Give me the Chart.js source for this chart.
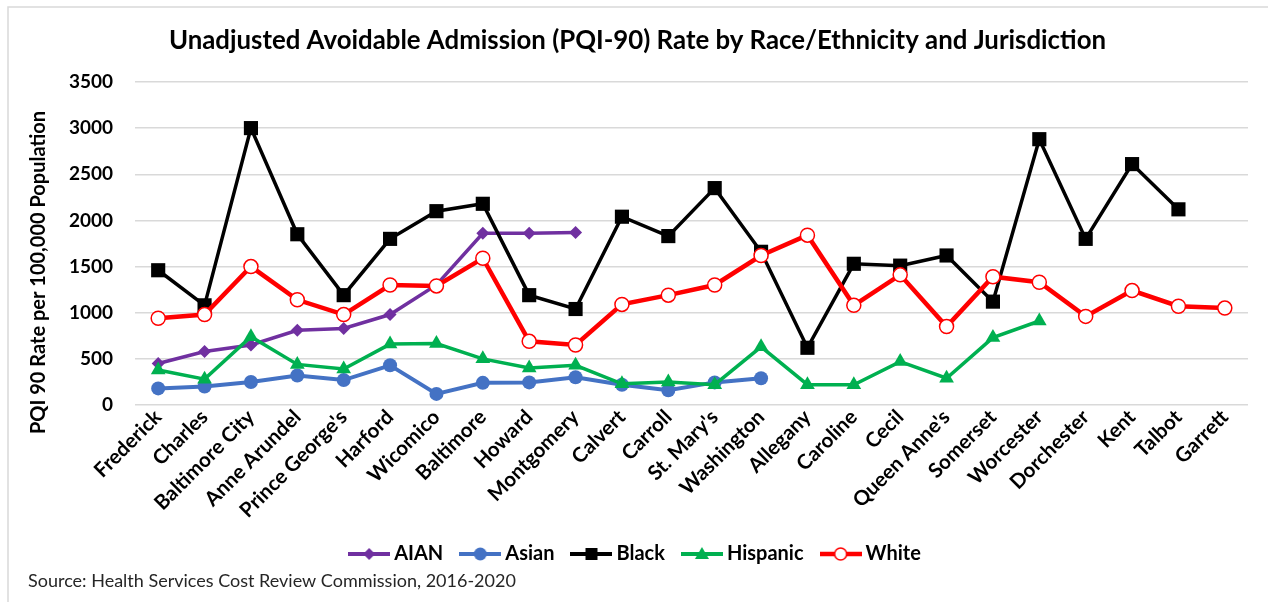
<!DOCTYPE html>
<html>
<head>
<meta charset="utf-8">
<script src="https://cdn.jsdelivr.net/npm/chart.js@4/dist/chart.umd.min.js"></script>
<style>
  html, body { margin: 0; padding: 0; background: #fff; }
  #wrap { width: 1268px; height: 602px; position: relative; }
</style>
</head>
<body>
<div id="wrap"><canvas id="c" width="1268" height="602"></canvas></div>
<script>
// Jurisdictions along the x axis
const jurisdictions = ["Frederick", "Charles", "Baltimore City", "Anne Arundel", "Prince George's",
  "Harford", "Wicomico", "Baltimore", "Howard", "Montgomery", "Calvert", "Carroll", "St. Mary's",
  "Washington", "Allegany", "Caroline", "Cecil", "Queen Anne's", "Somerset", "Worcester",
  "Dorchester", "Kent", "Talbot", "Garrett"];

// PQI-90 rate per 100,000 population, by race/ethnicity (null = not reported)
const aian = [450, 580, 650, 810, 830, 980, 1300, 1860, 1860, 1870,
  null, null, null, null, null, null, null, null, null, null, null, null, null, null];
const asian = [180, 200, 250, 320, 270, 430, 120, 240, 245, 300,
  220, 160, 245, 290, null, null, null, null, null, null, null, null, null, null];
const black = [1460, 1080, 3000, 1850, 1190, 1800, 2100, 2180, 1190, 1040,
  2040, 1830, 2350, 1660, 620, 1530, 1510, 1620, 1120, 2880, 1800, 2610, 2120, null];
const hispanic = [380, 280, 740, 440, 390, 660, 665, 500, 400, 430,
  230, 250, 220, 630, 220, 220, 470, 290, 730, 910, null, null, null, null];
const white = [940, 980, 1500, 1140, 980, 1300, 1290, 1590, 690, 650,
  1090, 1190, 1300, 1620, 1840, 1080, 1410, 850, 1390, 1330, 960, 1240, 1070, 1050];

const yTicks = [0, 500, 1000, 1500, 2000, 2500, 3000, 3500];

const FONT = "Lato, 'Open Sans', sans-serif";
const Y_TITLE = 'PQI 90 Rate per 100,000 Population';

// Legend swatch: a short line with the series marker in the middle
function swatch(color, style, fill) {
  const c = document.createElement('canvas');
  c.width = 42; c.height = 18;
  const g = c.getContext('2d');
  g.strokeStyle = color;
  g.lineWidth = style === 'circleOpen' ? 4.5 : 4;
  g.beginPath(); g.moveTo(0, 9); g.lineTo(42, 9); g.stroke();
  g.fillStyle = fill || color;
  g.lineWidth = 1.5;
  g.beginPath();
  if (style === 'diamond') {
    g.moveTo(21, 3); g.lineTo(27, 9); g.lineTo(21, 15); g.lineTo(15, 9); g.closePath(); g.fill();
  } else if (style === 'circle') {
    g.arc(21, 9, 6.5, 0, Math.PI * 2); g.fill();
  } else if (style === 'square') {
    g.rect(15, 3, 12, 12); g.fill();
  } else if (style === 'triangle') {
    g.moveTo(21, 2); g.lineTo(28, 14); g.lineTo(14, 14); g.closePath(); g.fill();
  } else if (style === 'circleOpen') {
    g.arc(21, 9, 6, 0, Math.PI * 2); g.fill(); g.strokeStyle = color; g.stroke();
  }
  return c;
}

const seriesDefs = [
  { label: 'AIAN', data: aian, color: '#7030A0', pointStyle: 'rectRot', radius: 6.5, width: 3.5, swatch: swatch('#7030A0', 'diamond'), order: 5 },
  { label: 'Asian', data: asian, color: '#4472C4', pointStyle: 'circle', radius: 7, width: 4, swatch: swatch('#4472C4', 'circle'), order: 4 },
  { label: 'Black', data: black, color: '#000000', pointStyle: 'rect', radius: 10, width: 3.5, swatch: swatch('#000000', 'square'), order: 3 },
  { label: 'Hispanic', data: hispanic, color: '#00B050', pointStyle: 'triangle', radius: 8.5, width: 3.5, swatch: swatch('#00B050', 'triangle'), order: 2 },
  { label: 'White', data: white, color: '#FF0000', pointStyle: 'circle', radius: 7, width: 4.5, swatch: swatch('#FF0000', 'circleOpen', '#ffffff'), order: 1, open: true }
];

const datasets = seriesDefs.map(s => ({
  label: s.label,
  data: s.data,
  borderColor: s.color,
  backgroundColor: s.color,
  borderWidth: s.width,
  pointStyle: s.pointStyle,
  pointRadius: s.radius,
  pointHoverRadius: s.radius,
  pointBackgroundColor: s.open ? '#ffffff' : s.color,
  pointBorderColor: s.color,
  pointBorderWidth: s.open ? 1.5 : 0,
  tension: 0,
  spanGaps: false,
  order: s.order,
  legendSwatch: s.swatch
}));

// Frame, vertical axis title and source note
const framePlugin = {
  id: 'frame',
  beforeDraw(chart) {
    const ctx = chart.ctx;
    ctx.save();
    ctx.fillStyle = '#ffffff';
    ctx.fillRect(0, 0, chart.width, chart.height);
    ctx.strokeStyle = '#d9d9d9';
    ctx.lineWidth = 1.5;
    ctx.beginPath();
    ctx.moveTo(8, chart.height); ctx.lineTo(8, 7); ctx.lineTo(chart.width, 7);
    ctx.stroke();
    ctx.restore();
  },
  afterDraw(chart) {
    const ctx = chart.ctx;
    const area = chart.chartArea;
    ctx.save();
    // vertical axis title, centred a little below the plot centre
    ctx.translate(39, (area.top + area.bottom) / 2 + 29);
    ctx.rotate(-Math.PI / 2);
    ctx.fillStyle = '#000000';
    ctx.font = "bold 20px " + FONT;
    ctx.textAlign = 'center';
    ctx.textBaseline = 'middle';
    ctx.fillText(Y_TITLE, 0, 0);
    ctx.restore();

    ctx.save();
    ctx.fillStyle = '#262626';
    ctx.font = "18px " + FONT;
    ctx.textBaseline = 'middle';
    ctx.textAlign = 'left';
    ctx.fillText('Source: Health Services Cost Review Commission, 2016-2020', 28, 581);
    ctx.restore();
  }
};

new Chart(document.getElementById('c'), {
  type: 'line',
  data: { labels: jurisdictions, datasets },
  options: {
    responsive: false,
    animation: false,
    devicePixelRatio: 1,
    layout: { padding: { left: 27, right: 20, top: 0, bottom: 28 } },
    plugins: {
      title: {
        display: true,
        text: 'Unadjusted Avoidable Admission (PQI-90) Rate by Race/Ethnicity and Jurisdiction',
        color: '#000000',
        font: { family: FONT, size: 25.8, weight: 'bold', lineHeight: 1.2 },
        padding: { top: 25, bottom: 26 }
      },
      legend: {
        position: 'bottom',
        labels: {
          usePointStyle: true,
          pointStyleWidth: 30,
          color: '#000000',
          font: { family: FONT, size: 20, weight: 'bold' },
          padding: 22,
          generateLabels(chart) {
            return chart.data.datasets.map((ds, i) => ({
              text: ds.label,
              pointStyle: ds.legendSwatch,
              fillStyle: ds.borderColor,
              strokeStyle: ds.borderColor,
              lineWidth: 0,
              hidden: false,
              datasetIndex: i,
              fontColor: '#000000'
            }));
          }
        }
      },
      tooltip: { enabled: false }
    },
    scales: {
      x: {
        offset: true,
        grid: { display: false, drawTicks: false },
        border: { display: false },
        ticks: {
          color: '#000000',
          font: { family: FONT, size: 20.5, weight: 'bold' },
          maxRotation: 45,
          minRotation: 45,
          autoSkip: false,
          padding: 0
        },
        afterFit(scale) { scale.height = 117; }
      },
      y: {
        min: 0,
        max: 3500,
        afterBuildTicks(scale) { scale.ticks = yTicks.map(v => ({ value: v })); },
        grid: { color: '#d9d9d9', lineWidth: 1.5, drawTicks: false },
        border: { display: false },
        ticks: {
          color: '#000000',
          font: { family: FONT, size: 19, weight: 'bold' },
          padding: 22,
          callback: v => String(v)
        },
        afterFit(scale) { scale.width = 108; }
      }
    }
  },
  plugins: [framePlugin]
});
</script>
</body>
</html>
